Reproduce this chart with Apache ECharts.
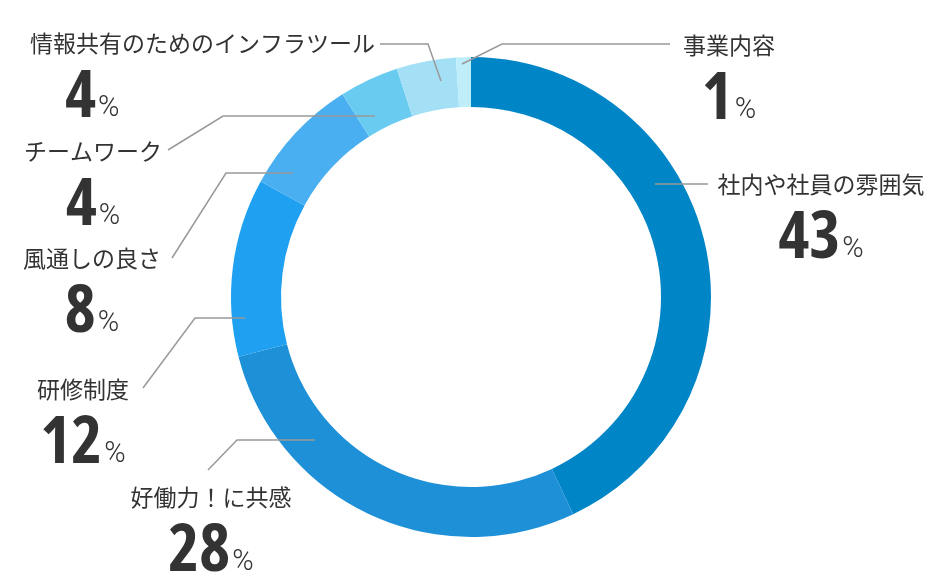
<!DOCTYPE html>
<html>
<head>
<meta charset="utf-8">
<style>
  html, body { margin: 0; padding: 0; background: #fff; }
  #chart { width: 940px; height: 580px; }
</style>
<script src="https://cdn.jsdelivr.net/npm/echarts@6/dist/echarts.min.js"></script>
</head>
<body>
<div id="chart"></div>
<script>
// 回答の内訳（%）
var categories = ['社内や社員の雰囲気', '好働力！に共感', '研修制度', '風通しの良さ', 'チームワーク', '情報共有のためのインフラツール', '事業内容'];
var shares = [43, 28, 12, 8, 4, 4, 1];
var colors = ['#0085c7', '#1e90d8', '#1fa0f0', '#4aaff0', '#6acbf0', '#a3e0f5', '#bfeefa'];

// ラベルの置き場所と引き出し線（見本に合わせた手置き）
var labelPos = [
    {x: 821, y: 184, align: 'center', line: [[655, 184], [680, 184], [708, 184]]},
    {x: 211, y: 497, align: 'center', line: [[315, 440], [237, 440], [208, 470]]},
    {x: 83,  y: 389, align: 'center', line: [[245, 318], [195, 318], [143, 388]]},
    {x: 92,  y: 258, align: 'center', line: [[293, 173], [226, 173], [172, 258]]},
    {x: 93,  y: 151, align: 'center', line: [[375, 116], [223, 116], [168, 150]]},
    {x: 30,  y: 43,  align: 'left',   line: [[441, 81], [428, 44], [380, 44]]},
    {x: 729, y: 45,  align: 'center', line: [[462, 64], [502, 44], [670, 44]]}
];

var rich = {
    n: {fontSize: 23, lineHeight: 30, color: '#333', fontFamily: 'Noto Sans CJK JP'},
    // fontStyle に condensed を入れて Open Sans の細字幅を使う
    v: {fontSize: 66, lineHeight: 73, color: '#333', fontStyle: 'condensed', fontWeight: 'bold', fontFamily: 'Open Sans', verticalAlign: 'bottom'},
    p: {fontSize: 29, lineHeight: 73, color: '#333', fontWeight: 300, fontFamily: 'Roboto', verticalAlign: 'bottom', padding: [0, 0, 8, 2]}
};

var ring = {
    center: [471, 297],
    radius: [190, 240],
    startAngle: 90,
    clockwise: true
};

var chart = echarts.init(document.getElementById('chart'));
chart.setOption({
    animation: false,
    series: [
        // 色付きのドーナツ
        echarts.util.extend({
            type: 'pie',
            z: 2,
            label: {show: false},
            labelLine: {show: false},
            emphasis: {disabled: true},
            data: categories.map(function (name, i) {
                return {name: name, value: shares[i], itemStyle: {color: colors[i]}};
            })
        }, ring),
        // ラベル用（透明、引き出し線をドーナツの上に描く）
        echarts.util.extend({
            type: 'pie',
            z: 5,
            silent: true,
            avoidLabelOverlap: false,
            itemStyle: {color: 'rgba(0,0,0,0)'},
            label: {
                show: true,
                position: 'outside',
                formatter: '{n|{b}}\n{v|{c}}{p|%}',
                rich: rich
            },
            labelLine: {
                show: true,
                lineStyle: {color: '#999', width: 1.5}
            },
            labelLayout: function (params) {
                var p = labelPos[params.dataIndex];
                return {
                    x: p.x,
                    y: p.y - 15,
                    align: p.align,
                    verticalAlign: 'top',
                    labelLinePoints: p.line
                };
            },
            emphasis: {disabled: true},
            data: categories.map(function (name, i) {
                var item = {name: name, value: shares[i]};
                if (i === 5) {
                    // 名前は左寄せ、数字は下の列にそろえる
                    item.label = {
                        rich: {
                            n: rich.n,
                            v: echarts.util.extend({padding: [0, 0, 0, 35]}, rich.v),
                            p: rich.p
                        }
                    };
                }
                return item;
            })
        }, ring)
    ]
});
</script>
</body>
</html>
